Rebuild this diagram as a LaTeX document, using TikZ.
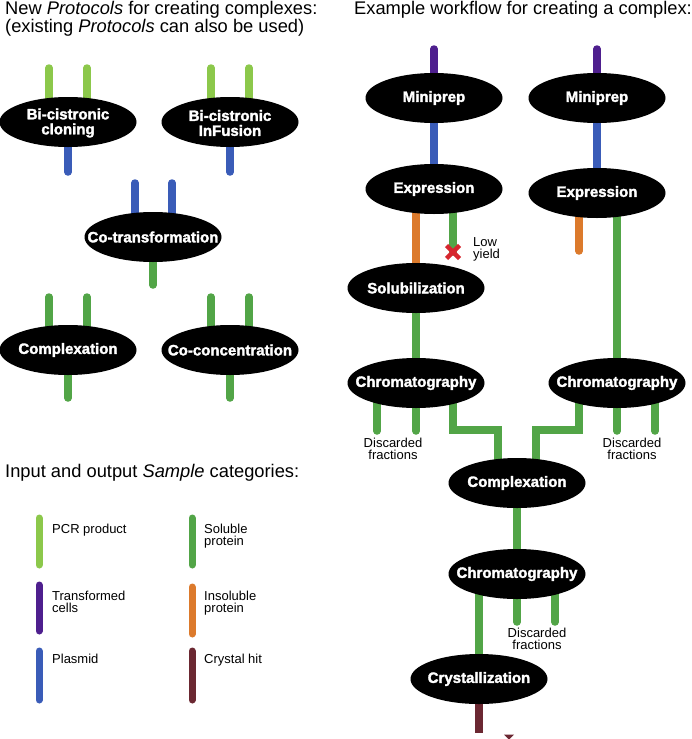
\documentclass[tikz,border=0pt]{standalone}
\usepackage{fontspec}
\setmainfont{Liberation Sans}
\newfontfamily\heavy[BoldFeatures={FakeBold=2}]{Liberation Sans}
\usetikzlibrary{shapes.geometric,calc}
\pgfdeclarelayer{bg}
\pgfsetlayers{bg,main}
\definecolor{colPCR}{HTML}{8CC84B}
\definecolor{colSol}{HTML}{52A547}
\definecolor{colCell}{HTML}{4E1F8E}
\definecolor{colPlas}{HTML}{3A5CB8}
\definecolor{colInsol}{HTML}{DC7A2C}
\definecolor{colCryst}{HTML}{6B2832}
\definecolor{colX}{HTML}{D7262E}
\begin{document}
\begin{tikzpicture}[x=1pt,y=-1pt,
  proc/.style={ellipse, fill=black, minimum width=137pt, minimum height=50pt, inner sep=0pt},
  ptext/.style={text=white, font=\heavy\bfseries\fontsize{15}{15}\selectfont, align=center, inner sep=0pt},
  flow/.style={line width=7.5pt, line cap=round, line join=miter},
  bar/.style={line width=7pt, line cap=round},
  small/.style={font=\fontsize{13}{12}\selectfont, inner sep=0pt},
  ttl/.style={font=\fontsize{18.3}{18}\selectfont, inner sep=0pt, anchor=base west}]
\useasboundingbox (0,0) rectangle (692,739);

% titles
\node[ttl] (t1) at (5,14) {New \textit{Protocols} for creating complexes:};
\node[ttl] (t2) at (5,32) {(existing \textit{Protocols} can also be used)};
\node[ttl] (t3) at (354,14) {Example workflow for creating a complex:};
\node[ttl] (t4) at (5,477) {Input and output \textit{Sample} categories:};

% left protocols
\node[proc] (bc) at (68,122) {};
\node[ptext] (bc-t) at ($(bc)+(0,1)$) {Bi-cistronic\\cloning};
\node[proc] (bi) at (230,122) {};
\node[ptext] (bi-t) at ($(bi)+(0,1)$) {Bi-cistronic\\InFusion};
\node[proc] (ct) at (153,237) {};
\node[ptext] (ct-t) at (ct) {Co-transformation};
\node[proc] (cx) at (68,350) {};
\node[ptext] (cx-t) at (cx) {Complexation};
\node[proc] (cc) at (230,350) {};
\node[ptext] (cc-t) at (cc) {Co-concentration};

% right workflow
\node[proc] (mp1) at (434,98) {};
\node[ptext] (mp1-t) at (mp1) {Miniprep};
\node[proc] (mp2) at (597,98) {};
\node[ptext] (mp2-t) at (mp2) {Miniprep};
\node[proc] (ex1) at (434,189) {};
\node[ptext] (ex1-t) at (ex1) {Expression};
\node[proc] (ex2) at (597,193) {};
\node[ptext] (ex2-t) at (ex2) {Expression};
\node[proc] (so) at (416,288) {};
\node[ptext] (so-t) at (so) {Solubilization};
\node[proc] (ch1) at (416,383) {};
\node[ptext] (ch1-t) at (ch1) {Chromatography};
\node[proc] (ch2) at (617,383) {};
\node[ptext] (ch2-t) at (ch2) {Chromatography};
\node[proc] (cpx) at (517,483) {};
\node[ptext] (cpx-t) at (cpx) {Complexation};
\node[proc] (ch3) at (517,574) {};
\node[ptext] (ch3-t) at (ch3) {Chromatography};
\node[proc] (cry) at (479,679) {};
\node[ptext] (cry-t) at (cry) {Crystallization};

\coordinate (lowx) at ($(ex1)+(19,63)$);
\node[small, anchor=west, align=left] (ly) at (473,249) {Low\\yield};
\node[small, align=center] (d1) at (393,449) {Discarded\\fractions};
\node[small, align=center] (d2) at (632,449) {Discarded\\fractions};
\node[small, align=center] (d3) at (537,639) {Discarded\\fractions};

\begin{pgfonlayer}{bg}
% left protocols
\draw[flow,colPCR] (bc.center) ++(-19,-54) -- ++(0,54);
\draw[flow,colPCR] (bc.center) ++(19,-54) -- ++(0,54);
\draw[flow,colPlas] (bc.center) -- ++(0,50);
\draw[flow,colPCR] (bi.center) ++(-19,-54) -- ++(0,54);
\draw[flow,colPCR] (bi.center) ++(19,-54) -- ++(0,54);
\draw[flow,colPlas] (bi.center) -- ++(0,50);
\draw[flow,colPlas] (ct.center) ++(-18,-54) -- ++(0,54);
\draw[flow,colPlas] (ct.center) ++(19,-54) -- ++(0,54);
\draw[flow,colSol] (ct.center) -- ++(0,48);
\draw[flow,colSol] (cx.center) ++(-19,-53) -- ++(0,53);
\draw[flow,colSol] (cx.center) ++(19,-53) -- ++(0,53);
\draw[flow,colSol] (cx.center) -- ++(0,48);
\draw[flow,colSol] (cc.center) ++(-19,-53) -- ++(0,53);
\draw[flow,colSol] (cc.center) ++(19,-53) -- ++(0,53);
\draw[flow,colSol] (cc.center) -- ++(0,48);
% right workflow
\draw[flow,colCell] (mp1.center) ++(0,-49) -- (mp1.center);
\draw[flow,colCell] (mp2.center) ++(0,-49) -- (mp2.center);
\draw[flow,colPlas] (mp1.center) -- (ex1.center);
\draw[flow,colPlas] (mp2.center) -- (ex2.center);
\draw[flow,colInsol] (so.center |- ex1.center) -- (so.center);
\draw[flow,colSol] (ex1.center) ++(19,0) -- (lowx);
\draw[flow,colInsol] (ex2.center) ++(-18,0) -- ++(0,58);
\draw[flow,colSol] (ch2.center |- ex2.center) -- (ch2.center);
\draw[flow,colSol] (so.center) -- (ch1.center);
\draw[flow,colSol] (ch1.center) ++(-39,0) -- ++(0,48);
\draw[flow,colSol] (ch1.center) -- ++(0,48);
\draw[flow,colSol] (ch1.center) ++(37,0) |- ($(cpx.center)+(-19,-53)$) -- ($(cpx.center)+(-19,0)$);
\draw[flow,colSol] (ch2.center) ++(-38,0) |- ($(cpx.center)+(19,-53)$) -- ($(cpx.center)+(19,0)$);
\draw[flow,colSol] (ch2.center) -- ++(0,48);
\draw[flow,colSol] (ch2.center) ++(38,0) -- ++(0,48);
\draw[flow,colSol] (cpx.center) -- (ch3.center);
\draw[flow,colSol] (ch3.center -| cry.center) -- (cry.center);
\draw[flow,colSol] (ch3.center) -- ++(0,48);
\draw[flow,colSol] (ch3.center) ++(38,0) -- ++(0,48);
\draw[flow,colCryst,line cap=butt] (cry.center) -- ++(0,54);
\end{pgfonlayer}

% red cross
\draw[colX, line width=4.5pt] (lowx) ++(-6.5,-6.5) -- ++(13,13);
\draw[colX, line width=4.5pt] (lowx) ++(-6.5,6.5) -- ++(13,-13);
% small crystal mark at bottom edge
\fill[colCryst] (504,734.5) -- (514,734.5) -- (509,739.5) -- cycle;

% legend
\draw[bar,colPCR] (39,518) -- (39,565);
\draw[bar,colCell] (39,585) -- (39,631);
\draw[bar,colPlas] (39,651) -- (39,700);
\draw[bar,colSol] (192,518) -- (192,565);
\draw[bar,colInsol] (192,587) -- (192,634);
\draw[bar,colCryst] (192,651) -- (192,700);
\node[small, anchor=base west] (l1) at (52,533) {PCR product};
\node[small, anchor=base west] (l2) at (52,600) {\vtop{\hbox{Transformed}\hbox{cells}}};
\node[small, anchor=base west] (l3) at (52,663) {Plasmid};
\node[small, anchor=base west] (l4) at (204,533) {\vtop{\hbox{Soluble}\hbox{protein}}};
\node[small, anchor=base west] (l5) at (204,600) {\vtop{\hbox{Insoluble}\hbox{protein}}};
\node[small, anchor=base west] (l6) at (204,663) {Crystal hit};
\end{tikzpicture}
\end{document}
